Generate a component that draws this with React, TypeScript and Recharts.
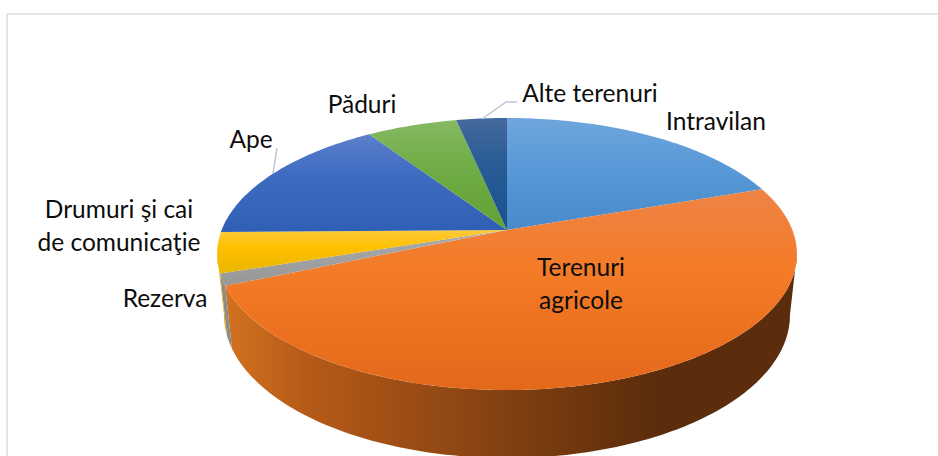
import { PieChart, Pie } from "recharts";

// ─── Data ─────────────────────────────────────────────────────────────────────

const categories = [
  "Intravilan",
  "Terenuri agricole",
  "Rezerva",
  "Drumuri şi cai de comunicaţie",
  "Ape",
  "Păduri",
  "Alte terenuri",
];
const shares = [19.7, 48.85, 1.4, 4.8, 15.9, 6.0, 3.35];

const tableData = categories.map((name, i) => ({ name, value: shares[i] }));

// light / saturated / dark stops of each top face
const faceStops = [
  ["#70a6dd", "#5a9ad8", "#478aca"],
  ["#ee8446", "#f47b27", "#e4681a"],
  ["#adadad", "#a3a3a3", "#979797"],
  ["#fdca3b", "#ffc000", "#e9b600"],
  ["#5c80ca", "#3f6cc2", "#2f5fb4"],
  ["#86b963", "#70ad47", "#62a134"],
  ["#44699c", "#2a5c96", "#17528e"],
];
const wallColors = ["#3f6f9f", "url(#wall-orange)", "#8c8c8c", "#d8a800", "#2b4a80", "#4a7a30", "#1f4a70"];

const labelLines: string[][] = [
  ["Intravilan"],
  ["Terenuri", "agricole"],
  ["Rezerva"],
  ["Drumuri şi cai", "de comunicaţie"],
  ["Ape"],
  ["Păduri"],
  ["Alte terenuri"],
];
const labelAnchors = [
  { x: 716, y: 130 },
  { x: 581, y: 276 },
  { x: 165, y: 307 },
  { x: 119, y: 218 },
  { x: 251, y: 148 },
  { x: 362, y: 113 },
  { x: 590, y: 102 },
];
const leaders: Record<number, string> = {
  4: "273,173 277,148",
  6: "482,119 506,102 517,102",
};

// ─── Projection ───────────────────────────────────────────────────────────────

const TOP = { sx: 0.984, sy: 0.4545, tilt: 0.1765, dy: 0 };
const BOTTOM = { sx: 0.9607, sy: 0.478, tilt: 0.175, dy: 60 };
const WALL_FROM = 100; // silhouette of the disc, degrees clockwise from 12 o'clock
const WALL_TO = 260;

type Plane = typeof TOP;

function project(p: any, plane: Plane, theta: number) {
  const rad = (theta * Math.PI) / 180;
  const u = Math.sin(rad);
  const v = Math.cos(rad);
  const w = 1 + plane.tilt * v;
  return {
    x: p.cx + (p.outerRadius * plane.sx * u) / w,
    y: p.cy + plane.dy - (p.outerRadius * plane.sy * v) / w,
  };
}

function arc(p: any, plane: Plane, from: number, to: number) {
  const n = Math.max(1, Math.ceil(Math.abs(to - from)));
  const pts: string[] = [];
  for (let i = 0; i <= n; i++) {
    const q = project(p, plane, from + ((to - from) * i) / n);
    pts.push(`${q.x.toFixed(2)} ${q.y.toFixed(2)}`);
  }
  return pts;
}

function FaceShape(props: any) {
  const from = 90 - props.startAngle;
  const to = 90 - props.endAngle;
  const d = `M${props.cx} ${props.cy} L${arc(props, TOP, from, to).join(" L")} Z`;
  return <path d={d} fill={`url(#face-${props.index})`} stroke="none" />;
}

function WallShape(props: any) {
  const from = Math.max(90 - props.startAngle, WALL_FROM);
  const to = Math.min(90 - props.endAngle, WALL_TO);
  if (to <= from) return <g />;
  const top = arc(props, TOP, from, to);
  const bottom = arc(props, BOTTOM, to, from);
  return <path d={`M${[...top, ...bottom].join(" L")} Z`} fill={wallColors[props.index]} stroke="none" />;
}

function renderLabel(props: any) {
  const i = props.index;
  const anchor = labelAnchors[i];
  return (
    <g key={i}>
      {leaders[i] && <polyline points={leaders[i]} fill="none" stroke="#b8c6d6" strokeWidth={1.5} />}
      <text x={anchor.x} textAnchor="middle" fontFamily="Lato, sans-serif" fontSize={24.5} fill="#0d0d0d">
        {labelLines[i].map((line, k) => (
          <tspan key={k} x={anchor.x} y={anchor.y + k * 33}>
            {line}
          </tspan>
        ))}
      </text>
    </g>
  );
}

// ─── Component ────────────────────────────────────────────────────────────────

export default function App() {
  return (
    <div style={{ position: "absolute", left: 0, top: 0, width: 938, height: 456, overflow: "hidden", background: "#fff" }}>
      <div style={{ position: "absolute", left: 6, top: 13, width: 940, height: 460, border: "2px solid #e0e5ea" }} />
      <div style={{ position: "absolute", left: 0, top: 0 }}>
        <PieChart width={938} height={456} margin={{ top: 0, right: 0, bottom: 0, left: 0 }}>
          <defs>
            {faceStops.map((stops, i) => (
              <linearGradient key={i} id={`face-${i}`} x1="0" y1="0" x2="0" y2="1">
                <stop offset="0" stopColor={stops[0]} />
                <stop offset="0.4" stopColor={stops[1]} />
                <stop offset="1" stopColor={stops[2]} />
              </linearGradient>
            ))}
            <linearGradient id="wall-orange" gradientUnits="userSpaceOnUse" x1="225" y1="0" x2="650" y2="0">
              <stop offset="0" stopColor="#d2711f" />
              <stop offset="0.2" stopColor="#b55a18" />
              <stop offset="1" stopColor="#5c2d0c" />
            </linearGradient>
          </defs>
          <Pie
            data={tableData}
            dataKey="value"
            nameKey="name"
            cx={507}
            cy={230}
            outerRadius={290}
            startAngle={90}
            endAngle={-270}
            paddingAngle={0}
            stroke="none"
            shape={WallShape}
            isAnimationActive={false}
            legendType="none"
          />
          <Pie
            data={tableData}
            dataKey="value"
            nameKey="name"
            cx={507}
            cy={230}
            outerRadius={290}
            startAngle={90}
            endAngle={-270}
            paddingAngle={0}
            stroke="none"
            shape={FaceShape}
            label={renderLabel}
            labelLine={false}
            isAnimationActive={false}
            legendType="none"
          />
        </PieChart>
      </div>
    </div>
  );
}
